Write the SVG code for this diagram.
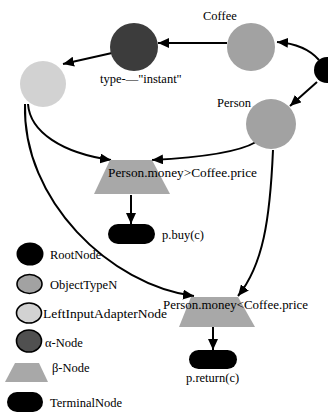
<svg xmlns="http://www.w3.org/2000/svg" width="328" height="413" viewBox="0 0 328 413" font-family="'Liberation Serif', 'DejaVu Serif', serif">
<style>
text{font-family:'Liberation Serif','DejaVu Serif',serif;font-size:12.5px;fill:#000}
.edge{fill:none;stroke:#000;stroke-width:2}
.otn{fill:#a2a2a2}
.alpha{fill:#3c3c3c}
.lia{fill:#d2d2d2}
.beta{fill:#a8a8a8}
.term{fill:#000}
.lg{stroke:#000;stroke-width:1.6}
</style>
<defs>
<marker id="ah" markerUnits="userSpaceOnUse" markerWidth="12" markerHeight="10" refX="11" refY="5" orient="auto">
<path d="M0,0 L11,5 L0,10 Z" fill="#000"/>
</marker>
</defs>
<g id="connectors">
<path class="edge" d="M319,60 Q305,44 277,42" marker-end="url(#ah)"/>
<path class="edge" d="M317,82 L290,106" marker-end="url(#ah)"/>
<path class="edge" d="M227,43 L158,43" marker-end="url(#ah)"/>
<path class="edge" d="M112,53 L63,64" marker-end="url(#ah)"/>
<path class="edge" d="M28,104 C30,132 62,153 111,160" marker-end="url(#ah)"/>
<path class="edge" d="M25,104 C22,200 110,285 194,296" marker-end="url(#ah)"/>
<path class="edge" d="M256,142 Q232,156 152,160" marker-end="url(#ah)"/>
<path class="edge" d="M273,150 C270,220 263,265 238,296" marker-end="url(#ah)"/>
<path class="edge" d="M131,195 L131,224" marker-end="url(#ah)"/>
<path class="edge" d="M213,327 L213,350" marker-end="url(#ah)"/>
</g>
<g id="root"><circle cx="327" cy="70" r="13" fill="#000"/></g>
<g id="coffee"><circle class="otn" cx="251" cy="47" r="24"/><text x="203" y="20">Coffee</text></g>
<g id="alpha"><circle class="alpha" cx="134" cy="47" r="24"/><text x="100" y="83">type-—"instant"</text></g>
<g id="lia"><circle class="lia" cx="43" cy="84" r="23"/></g>
<g id="person"><circle class="otn" cx="271" cy="124" r="25"/><text x="217" y="107">Person</text></g>
<g id="beta1"><polygon class="beta" points="110,160 152,160 170,194 94,194"/><text x="108" y="177" textLength="149" lengthAdjust="spacingAndGlyphs">Person.money&gt;Coffee.price</text></g>
<g id="term1"><rect class="term" x="108" y="224" width="47" height="20" rx="10"/><text x="162" y="239">p.buy(c)</text></g>
<g id="beta2"><polygon class="beta" points="191,297 238,297 255,327 179,327"/><text x="163" y="309" textLength="145" lengthAdjust="spacingAndGlyphs">Person.money&lt;Coffee.price</text></g>
<g id="term2"><rect class="term" x="189" y="350" width="48" height="19" rx="9.5"/><text x="186" y="382">p.return(c)</text></g>
<g id="legend">
<ellipse cx="30" cy="254" rx="13.5" ry="11.5" fill="#000"/><text x="50" y="259">RootNode</text>
<ellipse class="otn lg" cx="29.5" cy="284" rx="12.5" ry="9.5"/><text x="50" y="289">ObjectTypeN</text>
<ellipse class="lia lg" cx="29" cy="313" rx="12.5" ry="10"/><text x="43" y="318" textLength="124" lengthAdjust="spacingAndGlyphs">LeftInputAdapterNode</text>
<ellipse class="alpha lg" cx="29" cy="341" rx="12.5" ry="11" style="fill:#505050"/><text x="45" y="347">α-Node</text>
<polygon class="beta" points="15,363 39,363 48,382 5,382"/><text x="52" y="372">β-Node</text>
<rect class="term" x="7" y="392" width="36" height="20" rx="10"/><text x="50" y="407">TerminalNode</text>
</g>
</svg>
